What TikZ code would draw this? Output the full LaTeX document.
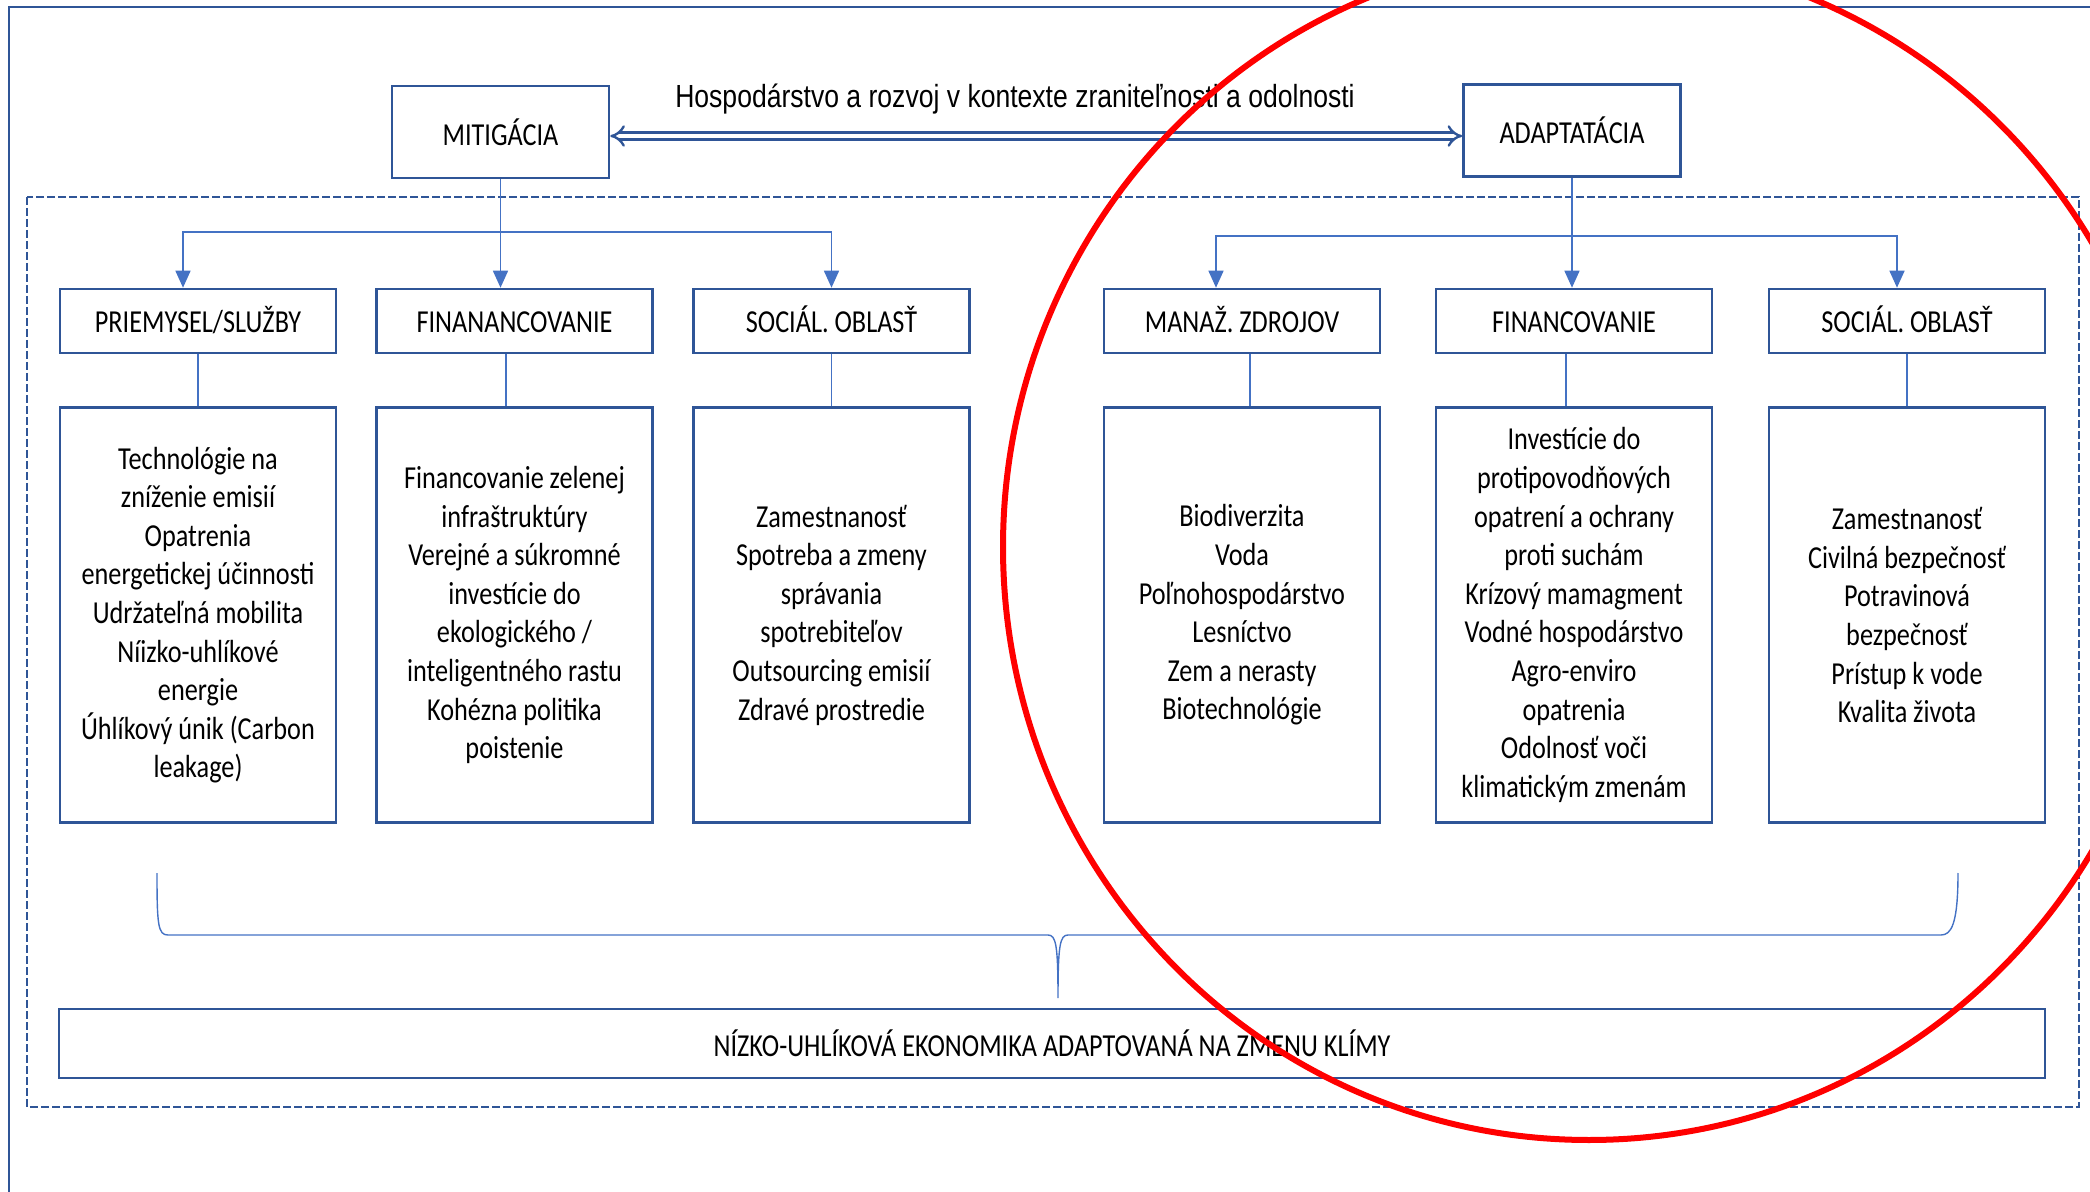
\documentclass[tikz,border=0pt]{standalone}
\usepackage{fontspec}
\setmainfont{Carlito}[FakeStretch=0.82]
\newfontfamily\titlefont{Liberation Sans}[FakeStretch=0.83]
\usepackage{tikz}
\usetikzlibrary{positioning}
\usetikzlibrary{arrows.meta}
\usepackage{color}
\definecolor{boxblue}{RGB}{47,85,151}
\definecolor{linkblue}{RGB}{68,114,196}
\newcommand{\widthhead}{108.5pt}
\newcommand{\heighthead}{46pt}
\newcommand{\widthcol}{138pt}
\newcommand{\heightarea}{32pt}
\newcommand{\heightlist}{207.5pt}
\tikzset{
    common/.style={draw=boxblue, line width=1.3pt, rectangle, align=center, inner sep=2pt,
        font=\fontsize{16}{19.3}\selectfont},
    head/.style={common, minimum width=\widthhead, minimum height=\heighthead},
    area/.style={common, minimum width=\widthcol, minimum height=\heightarea, text height=13pt, text depth=1pt},
    list/.style={common, minimum width=\widthcol, minimum height=\heightlist},
    link/.style={draw=linkblue, line width=0.8pt},
    tip/.style={link, -{Triangle[width=7.5pt, length=8.5pt]}},
    both/.style={draw=boxblue, line width=1.2pt, double=white, double distance=2.4pt, {Implies}-{Implies}},
    frame/.style={draw=boxblue, line width=1.3pt},
    zone/.style={draw=boxblue, line width=1.1pt, dash pattern=on 4pt off 1.5pt},
}

\begin{document}
\begin{tikzpicture}[x=0.5pt, y=-0.5pt]
    \useasboundingbox (0,0) rectangle (2090,1192);
    \clip (0,0) rectangle (2090,1192);

    \draw[frame] (9,1210) -- (9,7) -- (2110,7);
    \draw[zone] (27,197) rectangle (2079,1107);

    \node[head] (mit) at (500.5,132) {MITIGÁCIA};
    \node[head] (ada) at (1572,130.5) {ADAPTATÁCIA};
    \node[font=\titlefont\fontsize{16}{19}\selectfont] (title) at (1015,99)
        {Hospodárstvo a rozvoj v kontexte zraniteľnosti a odolnosti};
    \draw[both] ([yshift=-2pt]mit.east) -- ([yshift=-2pt]mit.east -| ada.west);

    \path (198,321) node[area] (M1) {PRIEMYSEL/SLUŽBY}
        to ++(316.5,0) node[area] (M2) {FINANANCOVANIE}
        to ++(317,0) node[area] (M3) {SOCIÁL. OBLASŤ}
        to ++(410.5,0) node[area] (A1) {MANAŽ. ZDROJOV}
        to ++(332,0) node[area] (A2) {FINANCOVANIE}
        to ++(333,0) node[area] (A3) {SOCIÁL. OBLASŤ};

    \node[list, below=26pt of M1] (M1-list) {Technológie na\\zníženie emisií\\Opatrenia\\energetickej účinnosti\\Udržateľná mobilita\\Níizko-uhlíkové\\energie\\Úhlíkový únik (Carbon\\leakage)};
    \node[list, below=26pt of M2] (M2-list) {Financovanie zelenej\\infraštruktúry\\Verejné a súkromné\\investície do\\ekologického /\\inteligentného rastu\\Kohézna politika\\poistenie};
    \node[list, below=26pt of M3] (M3-list) {Zamestnanosť\\Spotreba a zmeny\\správania\\spotrebiteľov\\Outsourcing emisií\\Zdravé prostredie};
    \node[list, below=26pt of A1] (A1-list) {Biodiverzita\\Voda\\Poľnohospodárstvo\\Lesníctvo\\Zem a nerasty\\Biotechnológie};
    \node[list, below=26pt of A2] (A2-list) {Investície do\\protipovodňových\\opatrení a ochrany\\proti suchám\\Krízový mamagment\\Vodné hospodárstvo\\Agro-enviro\\opatrenia\\Odolnosť voči\\klimatickým zmenám};
    \node[list, below=26pt of A3] (A3-list) {Zamestnanosť\\Civilná bezpečnosť\\Potravinová\\bezpečnosť\\Prístup k vode\\Kvalita života};

    \node[common, minimum width=993pt, minimum height=34.5pt] (goal) at (1052,1043.5)
        {NÍZKO-UHLÍKOVÁ EKONOMIKA ADAPTOVANÁ NA ZMENU KLÍMY};

    \path (mit.south) ++(0,53) coordinate (mit-fork);
    \path (ada.south) ++(0,58) coordinate (ada-fork);

    \draw[link] (mit) -- (mit-fork);
    \draw[tip] (mit-fork) -| ([xshift=-7.5pt]M1.north);
    \draw[tip] (mit-fork) -- (mit-fork |- M2.north);
    \draw[tip] (mit-fork) -| (M3.north);
    \draw[link] (ada) -- (ada-fork);
    \draw[tip] (ada-fork) -| ([xshift=-13pt]A1.north);
    \draw[tip] (ada-fork) -- (ada-fork |- A2.north);
    \draw[tip] (ada-fork) -| ([xshift=-5pt]A3.north);

    \draw[link] (M1) -- (M1-list);
    \draw[link] ([xshift=-4.25pt]M2.south) -- ([xshift=-4.25pt]M2-list.north);
    \draw[link] (M3) -- (M3-list);
    \draw[link] ([xshift=4pt]A1.south) -- ([xshift=4pt]A1-list.north);
    \draw[link] ([xshift=-4pt]A2.south) -- ([xshift=-4pt]A2-list.north);
    \draw[link] (A3) -- (A3-list);

    \draw[link, line width=0.7pt] (157,873) .. controls (157,925) and (158,935) .. (168,935)
        -- (1048,935) .. controls (1056,935) and (1058,945) .. (1058,998)
        .. controls (1058,945) and (1060,935) .. (1068,935)
        -- (1941,935) .. controls (1951,935) and (1958,925) .. (1958,873);

    \draw[red, line width=3pt] (1589,547) ellipse [x radius=293pt, y radius=296.5pt];
\end{tikzpicture}
\end{document}
